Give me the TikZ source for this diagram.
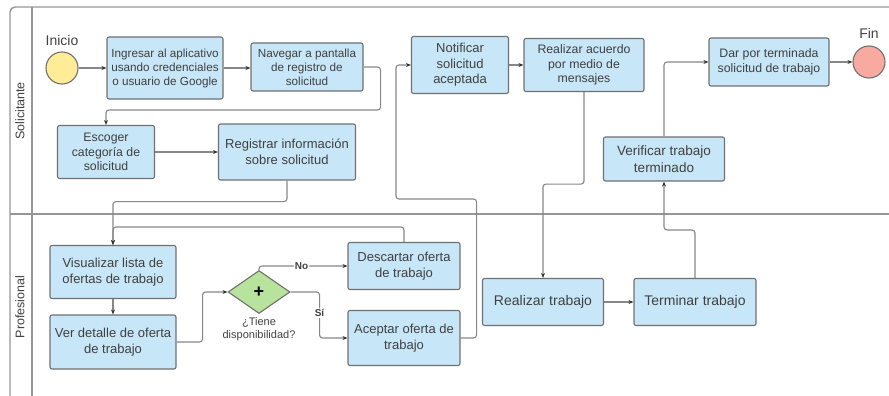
\documentclass[tikz,border=0pt]{standalone}
\usepackage{fontspec}
\setmainfont{Liberation Sans}
\usetikzlibrary{arrows.meta,shapes.geometric}
\definecolor{boxfill}{RGB}{199,230,247}
\definecolor{boxline}{RGB}{112,112,112}
\definecolor{txt}{RGB}{64,64,64}
\definecolor{lanec}{RGB}{150,150,150}
\definecolor{flowc}{RGB}{135,135,135}
\definecolor{startc}{RGB}{255,236,150}
\definecolor{endc}{RGB}{249,170,160}
\definecolor{gatec}{RGB}{184,227,156}
\tikzset{
  task/.style={draw=boxline, fill=boxfill, line width=1.1pt, rounded corners=2pt,
    text=txt, align=center, inner sep=2pt, font=\fontsize{11.7}{14}\selectfont},
  midtask/.style={task, font=\fontsize{12.3}{14.4}\selectfont},
  bigtask/.style={task, font=\fontsize{13}{15.5}\selectfont},
  event/.style={circle, draw=boxline, line width=1.1pt, minimum size=32pt, inner sep=0pt},
  flow/.style={draw=flowc, line width=1.1pt, rounded corners=3pt,
    -{Stealth[length=5pt,width=4pt,color=txt!80!black]}},
  lane/.style={draw=lanec, line width=1.4pt},
  lbl/.style={text=txt, font=\fontsize{14}{16}\selectfont},
  gatelbl/.style={text=txt, fill=white, inner sep=1pt, font=\fontsize{10}{12}\selectfont\bfseries}
}
\begin{document}
\begin{tikzpicture}[x=1pt,y=-1pt]
\useasboundingbox (0,0) rectangle (889,396);
% pool and lanes
\draw[lane, rounded corners=5pt] (10,400) -- (10,7) -- (889,7);
\draw[lane] (32,7) -- (32,400);
\draw[lane] (10,214) -- (889,214);
\node[rotate=90, text=txt, font=\fontsize{12.5}{14}\selectfont] (l1) at (20,111) {Solicitante};
\node[rotate=90, text=txt, font=\fontsize{12.5}{14}\selectfont] (l2) at (20,307) {Profesional};

% Solicitante lane
\node[event, fill=startc] (ini) at (62,68) {};
\node[lbl] (inil) at (62,40) {Inicio};
\node[task, minimum width=116pt, minimum height=62pt] (ing) at (165,68)
  {Ingresar al aplicativo\\usando credenciales\\o usuario de Google};
\node[task, minimum width=112pt, minimum height=48pt] (nav) at (307,67)
  {Navegar a pantalla\\de registro de\\solicitud};
\node[midtask, minimum width=97pt, minimum height=53pt] (esc) at (106,152)
  {Escoger\\categoría de\\solicitud};
\node[bigtask, minimum width=137pt, minimum height=56pt] (reg) at (287,152)
  {Registrar información\\sobre solicitud};
\node[bigtask, minimum width=97pt, minimum height=57pt] (noti) at (460,65)
  {Notificar\\solicitud\\aceptada};
\node[midtask, minimum width=120pt, minimum height=53pt] (acu) at (584,65)
  {Realizar acuerdo\\por medio de\\mensajes};
\node[midtask, minimum width=120pt, minimum height=48pt] (dar) at (769,62)
  {Dar por terminada\\solicitud de trabajo};
\node[event, fill=endc] (fin) at (869,62) {};
\node[lbl] (finl) at (869,33) {Fin};
\node[bigtask, minimum width=121pt, minimum height=44pt,
  font=\fontsize{13.5}{17}\selectfont] (verif) at (664,159)
  {Verificar trabajo\\terminado};

% Profesional lane
\node[bigtask, minimum width=126pt, minimum height=53pt] (vis) at (113,272)
  {Visualizar lista de\\ofertas de trabajo};
\node[bigtask, minimum width=126pt, minimum height=54pt] (ver) at (113,342)
  {Ver detalle de oferta\\de trabajo};
\node[diamond, draw=boxline, fill=gatec, line width=1.1pt, minimum width=62pt,
  minimum height=43pt, inner sep=0pt, font=\fontsize{18}{18}\selectfont\bfseries] (gate) at (259,292) {+};
\node[text=txt, align=center, font=\fontsize{11}{13}\selectfont] (gatel) at (259,329)
  {¿Tiene\\disponibilidad?};
\node[bigtask, minimum width=112pt, minimum height=47pt] (desc) at (404,266)
  {Descartar oferta\\de trabajo};
\node[bigtask, minimum width=112pt, minimum height=55pt] (acep) at (404,338)
  {Aceptar oferta de\\trabajo};
\node[bigtask, minimum width=121pt, minimum height=47pt,
  font=\fontsize{14}{16}\selectfont] (rt) at (543,302) {Realizar trabajo};
\node[bigtask, minimum width=122pt, minimum height=47pt,
  font=\fontsize{14}{16}\selectfont] (term) at (695,302) {Terminar trabajo};

% flows
\draw[flow] (ini) -- (ing);
\draw[flow] (ing.east) -- (ing.east -| nav.west);
\draw[flow] (nav.east) -- ++(17,0) -- ++(0,43) -| (esc.north);
\draw[flow] (esc.east) -- (esc.east -| reg.west);
\draw[flow] (reg.south) -- ++(0,21) -| (vis.north);
\draw[flow] (desc.north) -- ++(0,-15) -| (vis.north);
\draw[flow] (vis.south) -- (ver.north);
\draw[flow] (ver.east) -- ++(26,0) |- (gate.west);
\draw[flow] (gate.north) |- (desc.west) node[gatelbl, pos=0.74] {No};
\draw[flow] (gate.east) -- ++(29,0) |- (acep.west) node[gatelbl, pos=0.23] {Sí};
\draw[flow] (acep.east) -| ++(16,-139) -| ([xshift=-15pt]noti.west) -- (noti.west);
\draw[flow] (noti) -- (acu);
\draw[flow] (acu.south) -- ++(0,92) -| (rt.north);
\draw[flow] (rt) -- (term);
\draw[flow] (term.north) -- ++(0,-48) -| (verif.south);
\draw[flow] (verif.north) |- (dar.west);
\draw[flow] (dar) -- (fin);
\end{tikzpicture}
\end{document}
